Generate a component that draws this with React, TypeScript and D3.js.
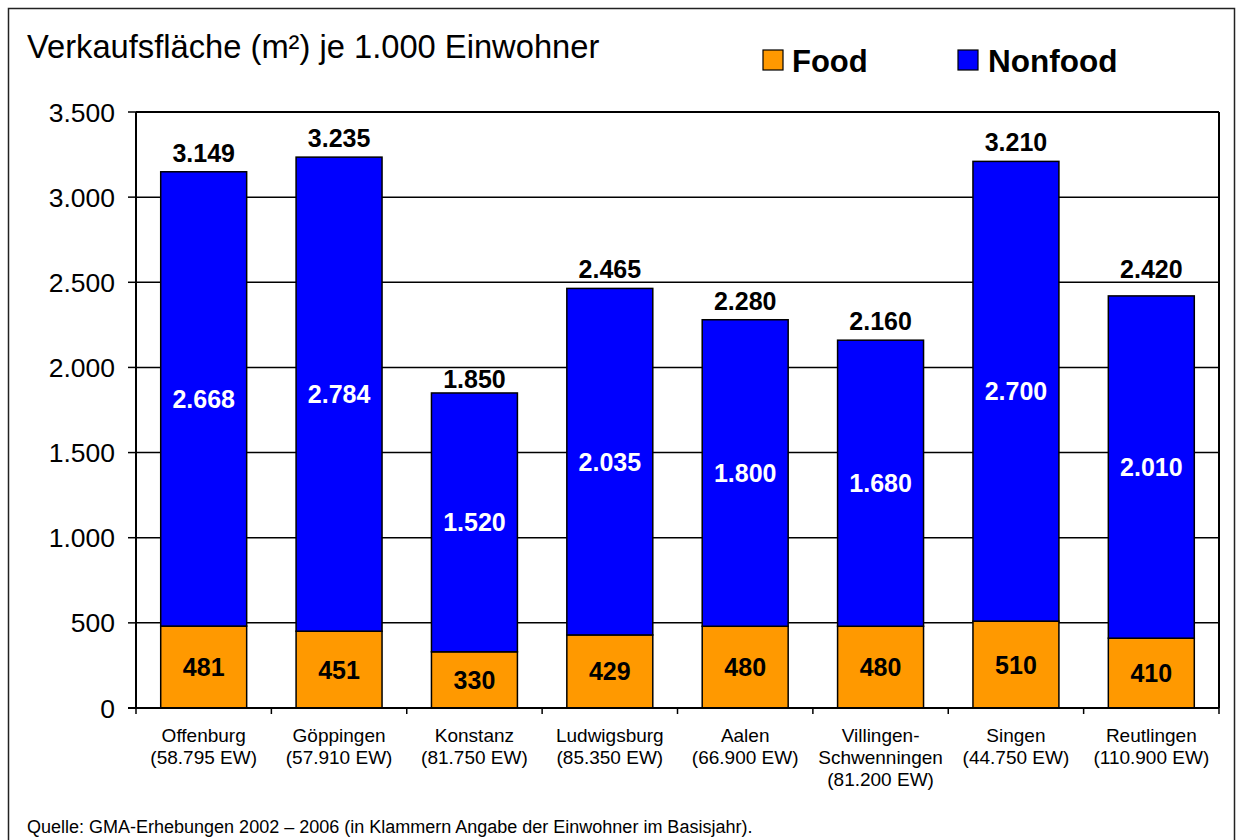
import * as d3 from 'd3';

const cities = ['Offenburg', 'Göppingen', 'Konstanz', 'Ludwigsburg', 'Aalen', 'Villingen-Schwenningen', 'Singen', 'Reutlingen'];
const cityLines = [
  ['Offenburg', '(58.795 EW)'],
  ['Göppingen', '(57.910 EW)'],
  ['Konstanz', '(81.750 EW)'],
  ['Ludwigsburg', '(85.350 EW)'],
  ['Aalen', '(66.900 EW)'],
  ['Villingen-', 'Schwenningen', '(81.200 EW)'],
  ['Singen', '(44.750 EW)'],
  ['Reutlingen', '(110.900 EW)'],
];
const food = [481, 451, 330, 429, 480, 480, 510, 410];
const nonfood = [2668, 2784, 1520, 2035, 1800, 1680, 2700, 2010];
const totals = [3149, 3235, 1850, 2465, 2280, 2160, 3210, 2420];
const yTicks = [0, 500, 1000, 1500, 2000, 2500, 3000, 3500];

const FONT = '"Liberation Sans", Arial, Helvetica, sans-serif';
const ORANGE = '#FF9900';
const BLUE = '#0000FF';

const fmt = (v: number) => {
  const s = String(v);
  return s.length > 3 ? s.slice(0, s.length - 3) + '.' + s.slice(-3) : s;
};

export default function App() {
  const width = 1237;
  const height = 840;
  const plot = { left: 136, right: 1219, top: 112, bottom: 708 };

  const x = d3.scaleBand<string>()
    .domain(cities)
    .range([plot.left, plot.right])
    .paddingInner(0.365)
    .paddingOuter(0.1825);

  const y = d3.scaleLinear().domain([0, 3500]).range([plot.bottom, plot.top]);
  const step = x.step();
  const bw = x.bandwidth();

  // keep the total labels clear of the gridlines
  const totalBaseline = (yTop: number) => {
    let b = yTop - 10;
    for (const t of yTicks) {
      const g = y(t);
      if (g >= b - 20 && g <= b + 2) {
        b = g > b - 9 ? g - 4 : Math.min(g + 21, yTop - 4);
      }
    }
    return b;
  };

  return (
    <svg width={width} height={height} style={{ position: 'absolute', left: 0, top: 0, background: '#fff' }} fontFamily={FONT}>
      <rect x={8.5} y={8.5} width={1226} height={900} fill="#fff" stroke="#222" strokeWidth={1.5} />

      <text x={27} y={58} fontSize={32.7} fill="#000">Verkaufsfläche (m²) je 1.000 Einwohner</text>

      {/* legend */}
      <rect x={763} y={50} width={20} height={20} fill={ORANGE} stroke="#000" strokeWidth={1.2} />
      <text x={792} y={72} fontSize={31} fontWeight="bold">Food</text>
      <rect x={958} y={50} width={20} height={20} fill={BLUE} stroke="#000" strokeWidth={1.2} />
      <text x={988} y={72} fontSize={31.5} fontWeight="bold">Nonfood</text>

      {/* grid */}
      {yTicks.slice(1, -1).map(t => (
        <line key={t} x1={plot.left} x2={plot.right} y1={y(t)} y2={y(t)} stroke="#000" strokeWidth={1.5} />
      ))}
      <line x1={plot.left} x2={plot.right} y1={y(3500)} y2={y(3500)} stroke="#000" strokeWidth={2} />
      <line x1={plot.right} x2={plot.right} y1={plot.top} y2={plot.bottom} stroke="#000" strokeWidth={2} />

      {/* bars */}
      {cities.map((c, i) => {
        const x0 = x(c)!;
        const yFood = y(food[i]);
        const yTop = y(food[i] + nonfood[i]);
        return (
          <g key={c}>
            <rect x={x0} y={yFood} width={bw} height={y(0) - yFood} fill={ORANGE} stroke="#000" strokeWidth={1.5} />
            <rect x={x0} y={yTop} width={bw} height={yFood - yTop} fill={BLUE} stroke="#000" strokeWidth={1.5} />
            <text x={x0 + bw / 2} y={(yFood + y(0)) / 2} dy="0.36em" textAnchor="middle" fontSize={25} fontWeight="bold" fill="#000">{fmt(food[i])}</text>
            <text x={x0 + bw / 2} y={(yFood + yTop) / 2} dy="0.36em" textAnchor="middle" fontSize={25} fontWeight="bold" fill="#fff">{fmt(nonfood[i])}</text>
            <text x={x0 + bw / 2} y={totalBaseline(yTop)} textAnchor="middle" fontSize={25} fontWeight="bold" fill="#000">{fmt(totals[i])}</text>
          </g>
        );
      })}

      {/* y axis */}
      <line x1={plot.left} x2={plot.left} y1={plot.top} y2={plot.bottom} stroke="#000" strokeWidth={2} />
      {yTicks.map(t => (
        <g key={t}>
          <line x1={plot.left - 8} x2={plot.left} y1={y(t)} y2={y(t)} stroke="#000" strokeWidth={1.5} />
          <text x={115} y={y(t)} dy="0.36em" textAnchor="end" fontSize={26.5} fill="#000">{fmt(t)}</text>
        </g>
      ))}

      {/* x axis */}
      <line x1={plot.left - 8} x2={plot.right} y1={plot.bottom} y2={plot.bottom} stroke="#000" strokeWidth={2} />
      {d3.range(cities.length + 1).map(i => (
        <line key={i} x1={plot.left + i * step} x2={plot.left + i * step} y1={plot.bottom} y2={plot.bottom + 6} stroke="#000" strokeWidth={1.5} />
      ))}
      {cities.map((c, i) => (
        <text key={c} x={x(c)! + bw / 2} textAnchor="middle" fontSize={19} fill="#000">
          {cityLines[i].map((l, j) => (
            <tspan key={j} x={x(c)! + bw / 2} y={742 + j * 22}>{l}</tspan>
          ))}
        </text>
      ))}

      <text x={27} y={833} fontSize={18} fill="#000">Quelle: GMA-Erhebungen 2002 – 2006 (in Klammern Angabe der Einwohner im Basisjahr).</text>
    </svg>
  );
}
